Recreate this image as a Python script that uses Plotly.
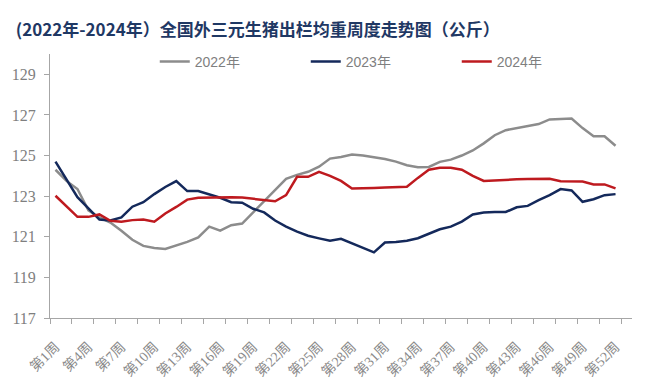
import plotly.graph_objects as go

weeks = list(range(1, 53))
week_labels = [f"第{w}周" for w in range(1, 54)]
label_weeks = list(range(1, 54, 3))

y2022 = [124.3, 123.75, 123.35, 122.3, 121.95, 121.7, 121.3, 120.85, 120.55, 120.45,
         120.4, 120.58, 120.75, 120.97, 121.5, 121.3, 121.57, 121.65, 122.2, 122.75,
         123.35, 123.85, 124.05, 124.2, 124.45, 124.85, 124.93, 125.05, 125.0, 124.92,
         124.83, 124.7, 124.52, 124.42, 124.44, 124.69, 124.8, 125.0, 125.25, 125.6,
         126.0, 126.25, 126.35, 126.42, 126.55, 126.78, 126.8, 126.82, 126.35, 125.95,
         125.95, 125.48]
y2023 = [124.7, 123.8, 122.95, 122.4, 121.85, 121.8, 121.95, 122.48, 122.7, 123.1,
         123.45, 123.74, 123.25, 123.25, 123.08, 122.92, 122.7, 122.68, 122.38, 122.2,
         121.8, 121.5, 121.25, 121.05, 120.92, 120.8, 120.9, 120.67, 120.46, 120.23,
         120.72, 120.74, 120.8, 120.93, 121.15, 121.37, 121.5, 121.75, 122.1, 122.2,
         122.22, 122.22, 122.45, 122.52, 122.8, 123.05, 123.35, 123.28, 122.72, 122.85,
         123.05, 123.1]
y2024 = [123.02, 122.5, 121.98, 121.98, 122.1, 121.79, 121.74, 121.82, 121.85, 121.74,
         122.15, 122.47, 122.83, 122.92, 122.93, 122.95, 122.95, 122.93, 122.88, 122.8,
         122.75, 123.05, 123.95, 123.95, 124.2, 124.0, 123.75, 123.38, 123.38, 123.4,
         123.42, 123.45, 123.46, 123.9, 124.3, 124.4, 124.4, 124.3, 124.0, 123.75,
         123.78, 123.82, 123.83, 123.84, 123.86, 123.86, 123.74, 123.73, 123.72, 123.58,
         123.58, 123.38]

series = [("2022年", y2022, "#8c8c8c"), ("2023年", y2023, "#14295b"), ("2024年", y2024, "#be1a1f")]
y_ticks = [117, 119, 121, 123, 125, 127, 129]

fig = go.Figure()
for name, ys, color in series:
    fig.add_trace(go.Scatter(x=weeks, y=ys, mode="lines", name=name,
                             line=dict(color=color, width=2.5)))

# page body has an 8px margin; figure is sized so the plot lands where the reference has it
fig.update_layout(
    width=646, height=376,
    margin=dict(l=42, r=22, t=46, b=66),
    paper_bgcolor="white", plot_bgcolor="white",
    title=dict(text="(2022年-2024年）全国外三元生猪出栏均重周度走势图（公斤）",
               x=0.012, xanchor="left", y=0.941, yanchor="middle",
               font=dict(family="Noto Sans CJK SC", size=17, color="#1f3864", weight="bold")),
    legend=dict(orientation="h", x=0.18, xanchor="left", y=0.97, yanchor="middle",
                bgcolor="rgba(0,0,0,0)", entrywidth=106, entrywidthmode="pixels",
                font=dict(family="Liberation Sans, Noto Sans CJK SC", size=14, color="#7f7f7f")),
    showlegend=True,
)
fig.update_xaxes(
    range=[0.5, 53.5], showgrid=False, zeroline=False, automargin=False,
    showline=True, linecolor="#a6a6a6", linewidth=1,
    tickmode="array", tickvals=label_weeks,
    ticktext=[week_labels[w - 1] for w in label_weeks],
    ticks="outside", ticklen=0, tickangle=-45, ticklabelstandoff=14,
    tickfont=dict(family="Liberation Serif, Noto Sans CJK SC", size=14, color="#8a8a8a"),
    minor=dict(tickmode="array", tickvals=[w + 0.5 for w in range(0, 54, 2)],
               ticks="outside", ticklen=5, tickcolor="#a6a6a6", showgrid=False),
)
fig.update_yaxes(
    range=[117, 130], showgrid=False, zeroline=False, automargin=False,
    showline=True, linecolor="#a6a6a6", linewidth=1,
    tickmode="array", tickvals=y_ticks,
    ticks="outside", ticklen=5, tickcolor="#a6a6a6", ticklabelstandoff=5,
    tickfont=dict(family="Liberation Serif, Noto Sans CJK SC", size=16, color="#7f7f7f"),
)
fig.write_html("out.html")
